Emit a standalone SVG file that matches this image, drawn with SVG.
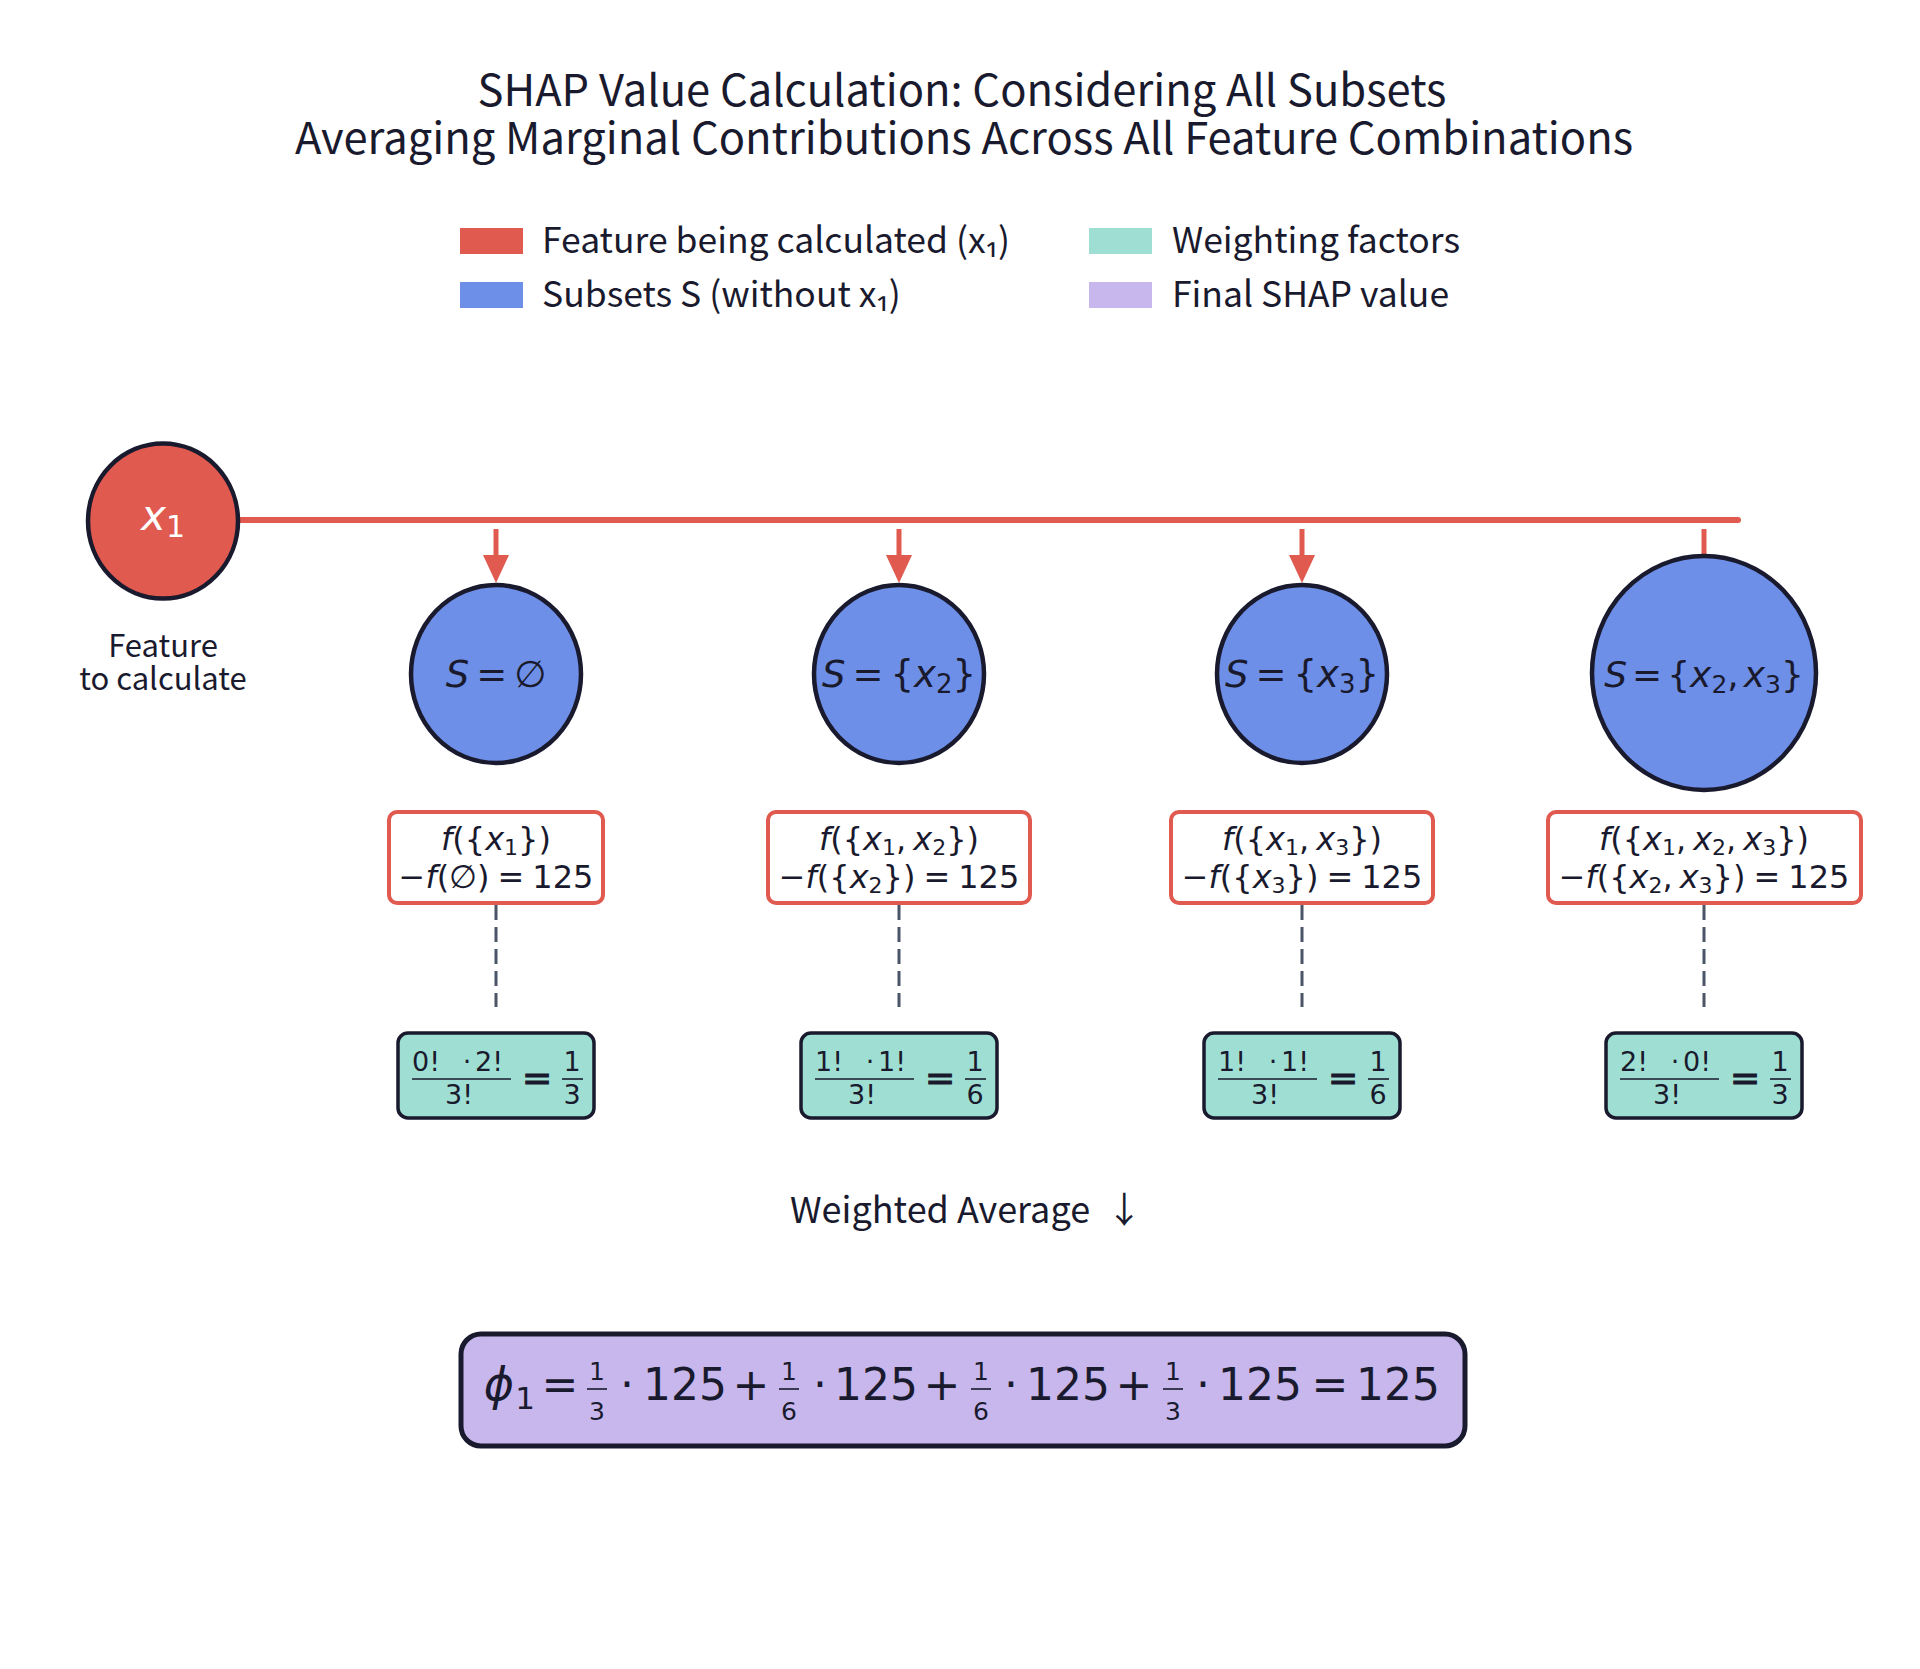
<svg xmlns="http://www.w3.org/2000/svg" width="1920" height="1669" viewBox="0 0 1920 1669">
<style>
.t{font-family:"Noto Sans CJK JP","Noto Sans",sans-serif;fill:#1a1a2e}
.m{font-family:"DejaVu Sans",sans-serif;fill:#1a1a2e}
.i{font-style:italic}
.node{stroke:#1a1a2e;stroke-width:4.5}
.red{fill:#e05a4f}
.blue{fill:#6d8fe8}
.teal{fill:#9fdfd3}
.purple{fill:#c7b7ec}
.mb{fill:#ffffff;stroke:#e05a4f;stroke-width:4}
.dash{stroke:#4a5568;stroke-width:3;stroke-dasharray:15 7;fill:none}
.arr{stroke:#e05a4f;stroke-width:5;fill:none}
.bar{stroke:#1a1a2e;stroke-width:1.6}
</style>
<defs>
<marker id="ah" markerUnits="userSpaceOnUse" markerWidth="28" markerHeight="26" refX="2" refY="13" orient="auto" viewBox="0 0 28 26">
<path d="M0,0 L28,13 L0,26 Z" fill="#e05a4f"/>
</marker>
</defs>
<rect width="1920" height="1669" fill="#ffffff"/>

<g id="title">
<text class="t" x="962" y="106" font-size="43.5" text-anchor="middle">SHAP Value Calculation: Considering All Subsets</text>
<text class="t" x="964" y="154" font-size="43.5" text-anchor="middle">Averaging Marginal Contributions Across All Feature Combinations</text>
</g>

<g id="legend">
<rect x="460" y="228" width="63" height="26" class="red"/>
<text class="t" x="542" y="253" font-size="35.5">Feature being calculated (x₁)</text>
<rect x="460" y="282" width="63" height="26" class="blue"/>
<text class="t" x="542" y="307" font-size="35.5">Subsets S (without x₁)</text>
<rect x="1089" y="228" width="63" height="26" class="teal"/>
<text class="t" x="1172" y="253" font-size="35.5">Weighting factors</text>
<rect x="1089" y="282" width="63" height="26" class="purple"/>
<text class="t" x="1172" y="307" font-size="35.5">Final SHAP value</text>
</g>

<g id="connectors">
<line x1="238" y1="520" x2="1738" y2="520" stroke="#e05a4f" stroke-width="6" stroke-linecap="round"/>
<line x1="496" y1="529" x2="496" y2="557" class="arr" marker-end="url(#ah)"/>
<line x1="899" y1="529" x2="899" y2="557" class="arr" marker-end="url(#ah)"/>
<line x1="1302" y1="529" x2="1302" y2="557" class="arr" marker-end="url(#ah)"/>
<line x1="1704" y1="529" x2="1704" y2="557" class="arr" marker-end="url(#ah)"/>
<line x1="496" y1="905" x2="496" y2="1007" class="dash"/>
<line x1="899" y1="905" x2="899" y2="1007" class="dash"/>
<line x1="1302" y1="905" x2="1302" y2="1007" class="dash"/>
<line x1="1704" y1="905" x2="1704" y2="1007" class="dash"/>
</g>

<g id="node-x1">
<ellipse cx="163" cy="521" rx="75" ry="77.5" class="red node"/>
<text class="m" x="163" y="530" font-size="42" text-anchor="middle" style="fill:#ffffff"><tspan class="i">x</tspan><tspan font-size="30" dy="7">1</tspan></text>
<text class="t" x="163" y="657" font-size="31" text-anchor="middle">Feature</text>
<text class="t" x="163" y="690" font-size="31" text-anchor="middle">to calculate</text>
</g>

<g id="node-s0">
<ellipse cx="496" cy="674" rx="85" ry="89" class="blue node"/>
<text class="m" x="496" y="687" font-size="37" text-anchor="middle"><tspan class="i">S</tspan><tspan dx="7">=</tspan><tspan dx="7">∅</tspan></text>
</g>
<g id="node-s2">
<ellipse cx="899" cy="674" rx="85" ry="89" class="blue node"/>
<text class="m" x="899" y="687" font-size="37" text-anchor="middle"><tspan class="i">S</tspan><tspan dx="7">=</tspan><tspan dx="7">{</tspan><tspan class="i">x</tspan><tspan font-size="26" dy="6">2</tspan><tspan dy="-6">}</tspan></text>
</g>
<g id="node-s3">
<ellipse cx="1302" cy="674" rx="85" ry="89" class="blue node"/>
<text class="m" x="1302" y="687" font-size="37" text-anchor="middle"><tspan class="i">S</tspan><tspan dx="7">=</tspan><tspan dx="7">{</tspan><tspan class="i">x</tspan><tspan font-size="26" dy="6">3</tspan><tspan dy="-6">}</tspan></text>
</g>
<g id="node-s23">
<ellipse cx="1704" cy="673" rx="112" ry="117" class="blue node"/>
<text class="m" x="1704" y="687" font-size="36" text-anchor="middle"><tspan class="i">S</tspan><tspan dx="5">=</tspan><tspan dx="5">{</tspan><tspan class="i">x</tspan><tspan font-size="25" dy="6">2</tspan><tspan dy="-6">,</tspan><tspan class="i" dx="5">x</tspan><tspan font-size="25" dy="6">3</tspan><tspan dy="-6">}</tspan></text>
</g>

<g id="mc-1">
<rect x="389" y="812" width="214" height="91" rx="8" class="mb"/>
<text class="m" x="496" y="850" font-size="32" text-anchor="middle"><tspan class="i">f</tspan>({<tspan class="i">x</tspan><tspan font-size="22" dy="5">1</tspan><tspan dy="-5">})</tspan></text>
<text class="m" x="496" y="888" font-size="32" text-anchor="middle">−<tspan class="i">f</tspan>(∅)<tspan dx="8">=</tspan><tspan dx="8">125</tspan></text>
</g>
<g id="mc-2">
<rect x="768" y="812" width="262" height="91" rx="8" class="mb"/>
<text class="m" x="899" y="850" font-size="32" text-anchor="middle"><tspan class="i">f</tspan>({<tspan class="i">x</tspan><tspan font-size="22" dy="5">1</tspan><tspan dy="-5">,</tspan><tspan class="i" dx="7">x</tspan><tspan font-size="22" dy="5">2</tspan><tspan dy="-5">})</tspan></text>
<text class="m" x="899" y="888" font-size="32" text-anchor="middle">−<tspan class="i">f</tspan>({<tspan class="i">x</tspan><tspan font-size="22" dy="5">2</tspan><tspan dy="-5">})</tspan><tspan dx="8">=</tspan><tspan dx="8">125</tspan></text>
</g>
<g id="mc-3">
<rect x="1171" y="812" width="262" height="91" rx="8" class="mb"/>
<text class="m" x="1302" y="850" font-size="32" text-anchor="middle"><tspan class="i">f</tspan>({<tspan class="i">x</tspan><tspan font-size="22" dy="5">1</tspan><tspan dy="-5">,</tspan><tspan class="i" dx="7">x</tspan><tspan font-size="22" dy="5">3</tspan><tspan dy="-5">})</tspan></text>
<text class="m" x="1302" y="888" font-size="32" text-anchor="middle">−<tspan class="i">f</tspan>({<tspan class="i">x</tspan><tspan font-size="22" dy="5">3</tspan><tspan dy="-5">})</tspan><tspan dx="8">=</tspan><tspan dx="8">125</tspan></text>
</g>
<g id="mc-4">
<rect x="1548" y="812" width="313" height="91" rx="8" class="mb"/>
<text class="m" x="1704" y="850" font-size="32" text-anchor="middle"><tspan class="i">f</tspan>({<tspan class="i">x</tspan><tspan font-size="22" dy="5">1</tspan><tspan dy="-5">,</tspan><tspan class="i" dx="7">x</tspan><tspan font-size="22" dy="5">2</tspan><tspan dy="-5">,</tspan><tspan class="i" dx="7">x</tspan><tspan font-size="22" dy="5">3</tspan><tspan dy="-5">})</tspan></text>
<text class="m" x="1704" y="888" font-size="32" text-anchor="middle">−<tspan class="i">f</tspan>({<tspan class="i">x</tspan><tspan font-size="22" dy="5">2</tspan><tspan dy="-5">,</tspan><tspan class="i" dx="7">x</tspan><tspan font-size="22" dy="5">3</tspan><tspan dy="-5">})</tspan><tspan dx="8">=</tspan><tspan dx="8">125</tspan></text>
</g>

<g id="w-1">
<rect x="398" y="1033" width="196" height="85" rx="10" class="teal node" style="stroke-width:3.5"/>
<text class="m" x="412" y="1071" font-size="27">0!</text><text class="m" x="467" y="1071" font-size="27" text-anchor="middle">·</text><text class="m" x="503" y="1071" font-size="27" text-anchor="end">2!</text>
<line x1="412" y1="1079" x2="511" y2="1079" class="bar"/>
<text class="m" x="459" y="1104" font-size="27" text-anchor="middle">3!</text>
<text class="m" x="537" y="1090" font-size="36" text-anchor="middle" stroke="#1a1a2e" stroke-width="1.2">=</text>
<text class="m" x="572" y="1071" font-size="27" text-anchor="middle">1</text>
<line x1="562" y1="1079" x2="583" y2="1079" class="bar"/>
<text class="m" x="572" y="1104" font-size="27" text-anchor="middle">3</text>
</g>
<g id="w-2">
<rect x="801" y="1033" width="196" height="85" rx="10" class="teal node" style="stroke-width:3.5"/>
<text class="m" x="815" y="1071" font-size="27">1!</text><text class="m" x="870" y="1071" font-size="27" text-anchor="middle">·</text><text class="m" x="906" y="1071" font-size="27" text-anchor="end">1!</text>
<line x1="815" y1="1079" x2="914" y2="1079" class="bar"/>
<text class="m" x="862" y="1104" font-size="27" text-anchor="middle">3!</text>
<text class="m" x="940" y="1090" font-size="36" text-anchor="middle" stroke="#1a1a2e" stroke-width="1.2">=</text>
<text class="m" x="975" y="1071" font-size="27" text-anchor="middle">1</text>
<line x1="965" y1="1079" x2="986" y2="1079" class="bar"/>
<text class="m" x="975" y="1104" font-size="27" text-anchor="middle">6</text>
</g>
<g id="w-3">
<rect x="1204" y="1033" width="196" height="85" rx="10" class="teal node" style="stroke-width:3.5"/>
<text class="m" x="1218" y="1071" font-size="27">1!</text><text class="m" x="1273" y="1071" font-size="27" text-anchor="middle">·</text><text class="m" x="1309" y="1071" font-size="27" text-anchor="end">1!</text>
<line x1="1218" y1="1079" x2="1317" y2="1079" class="bar"/>
<text class="m" x="1265" y="1104" font-size="27" text-anchor="middle">3!</text>
<text class="m" x="1343" y="1090" font-size="36" text-anchor="middle" stroke="#1a1a2e" stroke-width="1.2">=</text>
<text class="m" x="1378" y="1071" font-size="27" text-anchor="middle">1</text>
<line x1="1368" y1="1079" x2="1389" y2="1079" class="bar"/>
<text class="m" x="1378" y="1104" font-size="27" text-anchor="middle">6</text>
</g>
<g id="w-4">
<rect x="1606" y="1033" width="196" height="85" rx="10" class="teal node" style="stroke-width:3.5"/>
<text class="m" x="1620" y="1071" font-size="27">2!</text><text class="m" x="1675" y="1071" font-size="27" text-anchor="middle">·</text><text class="m" x="1711" y="1071" font-size="27" text-anchor="end">0!</text>
<line x1="1620" y1="1079" x2="1719" y2="1079" class="bar"/>
<text class="m" x="1667" y="1104" font-size="27" text-anchor="middle">3!</text>
<text class="m" x="1745" y="1090" font-size="36" text-anchor="middle" stroke="#1a1a2e" stroke-width="1.2">=</text>
<text class="m" x="1780" y="1071" font-size="27" text-anchor="middle">1</text>
<line x1="1770" y1="1079" x2="1791" y2="1079" class="bar"/>
<text class="m" x="1780" y="1104" font-size="27" text-anchor="middle">3</text>
</g>

<g id="weighted-average">
<text class="t" x="790" y="1223" font-size="36" xml:space="preserve">Weighted Average  ↓</text>
</g>

<g id="final">
<rect x="461" y="1334" width="1004" height="112" rx="20" class="purple node" style="stroke-width:5"/>
<g class="m" font-size="44" text-anchor="middle">
<text x="499" y="1400" class="i" font-size="46">ϕ</text>
<text x="525" y="1409" font-size="31">1</text>
<text x="560" y="1400">=</text>
<text x="627" y="1400">·</text>
<text x="685" y="1400">125</text>
<text x="751" y="1400">+</text>
<text x="820" y="1400">·</text>
<text x="876" y="1400">125</text>
<text x="942" y="1400">+</text>
<text x="1011" y="1400">·</text>
<text x="1068" y="1400">125</text>
<text x="1134" y="1400">+</text>
<text x="1203" y="1400">·</text>
<text x="1260" y="1400">125</text>
<text x="1330" y="1400">=</text>
<text x="1398" y="1400">125</text>
</g>
<g class="m" font-size="25" text-anchor="middle">
<text x="597" y="1380">1</text><text x="597" y="1420">3</text>
<text x="789" y="1380">1</text><text x="789" y="1420">6</text>
<text x="981" y="1380">1</text><text x="981" y="1420">6</text>
<text x="1173" y="1380">1</text><text x="1173" y="1420">3</text>
</g>
<g class="bar">
<line x1="587" y1="1389" x2="607" y2="1389"/>
<line x1="779" y1="1389" x2="799" y2="1389"/>
<line x1="971" y1="1389" x2="991" y2="1389"/>
<line x1="1163" y1="1389" x2="1183" y2="1389"/>
</g>
</g>
</svg>
